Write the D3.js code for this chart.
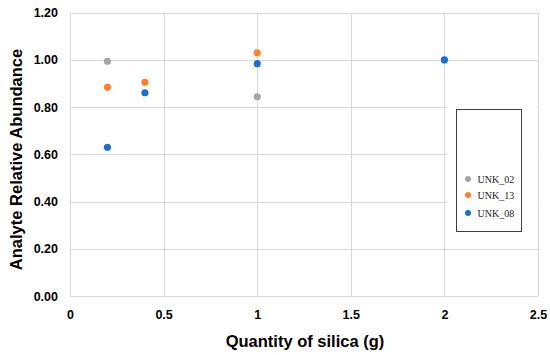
<!DOCTYPE html>
<html lang="en">
<head>
  <meta charset="UTF-8">
  <title>scatter chart</title>
  <style>
    body { margin: 0; background: #fff; }
  </style>
</head>
<body>
  <script src="https://cdn.jsdelivr.net/npm/d3@7"></script>
  <script type="text/javascript">
    // series, x = quantity of silica (g), y = relative abundance
    var seriesNames = ["UNK_02", "UNK_13", "UNK_08"];
    var seriesColors = ["#a5a5a5", "#ff7f2a", "#1f6fd1"];
    var unk02X = [0.2, 1];
    var unk02Y = [0.994, 0.844];
    var unk13X = [0.2, 0.4, 1];
    var unk13Y = [0.884, 0.905, 1.03];
    var unk08X = [0.2, 0.4, 1, 2];
    var unk08Y = [0.63, 0.861, 0.984, 1.0];
    var xTicks = [0, 0.5, 1, 1.5, 2, 2.5];
    var yTicks = [0, 0.2, 0.4, 0.6, 0.8, 1.0, 1.2];

    var width = 550, height = 355;
    var margin = {top: 12.7, right: 12, bottom: 59, left: 70};

    var svg = d3.select("body").append("svg")
      .attr("width", width)
      .attr("height", height);

    var x = d3.scaleLinear().domain([0, 2.5]).range([margin.left, 538]);
    var y = d3.scaleLinear().domain([0, 1.2]).range([296, margin.top]);

    // grid
    svg.append("g").selectAll("line").data(yTicks).enter().append("line")
      .attr("x1", x(0)).attr("x2", x(2.5))
      .attr("y1", function(d){ return Math.round(y(d)) + 0.5; })
      .attr("y2", function(d){ return Math.round(y(d)) + 0.5; })
      .attr("stroke", "#d9d9d9").attr("stroke-width", 1);
    svg.append("g").selectAll("line").data(xTicks).enter().append("line")
      .attr("x1", function(d){ return Math.round(x(d)) + 0.5; })
      .attr("x2", function(d){ return Math.round(x(d)) + 0.5; })
      .attr("y1", y(1.2)).attr("y2", y(0))
      .attr("stroke", "#d9d9d9").attr("stroke-width", 1);

    // axes (labels only, lines drawn by grid)
    var xAxis = svg.append("g")
      .attr("transform", "translate(0,296)")
      .call(d3.axisBottom(x).tickValues(xTicks).tickSize(0).tickPadding(14)
        .tickFormat(function(d){ return String(d); }));
    var yAxis = svg.append("g")
      .attr("transform", "translate(" + margin.left + ",0)")
      .call(d3.axisLeft(y).tickValues(yTicks).tickSize(0).tickPadding(12)
        .tickFormat(d3.format(".2f")));
    [xAxis, yAxis].forEach(function(a){
      a.select(".domain").remove();
      a.selectAll("text")
        .attr("font-family", "Arial, 'Liberation Sans', sans-serif")
        .attr("font-size", "12.5px")
        .attr("font-weight", "bold")
        .attr("fill", "#000");
    });

    // axis titles
    svg.append("text")
      .attr("x", 305).attr("y", 347)
      .attr("text-anchor", "middle")
      .attr("font-family", "Arial, 'Liberation Sans', sans-serif")
      .attr("font-size", "16.5px").attr("font-weight", "bold")
      .text("Quantity of silica (g)");
    svg.append("text")
      .attr("transform", "translate(21.5,159.5) rotate(-90)")
      .attr("text-anchor", "middle")
      .attr("font-family", "Arial, 'Liberation Sans', sans-serif")
      .attr("font-size", "16.5px").attr("font-weight", "bold")
      .text("Analyte Relative Abundance");

    // points
    var series = [
      {xs: unk02X, ys: unk02Y},
      {xs: unk13X, ys: unk13Y},
      {xs: unk08X, ys: unk08Y}
    ];
    series.forEach(function(s, k){
      svg.append("g").selectAll("circle")
        .data(s.xs.map(function(v, i){ return [v, s.ys[i]]; }))
        .enter().append("circle")
        .attr("cx", function(d){ return x(d[0]); })
        .attr("cy", function(d){ return y(d[1]); })
        .attr("r", 3.6)
        .attr("fill", seriesColors[k]);
    });

    // legend: white panel hiding the grid, then the box
    svg.append("rect")
      .attr("x", 447).attr("y", 100).attr("width", 90).attr("height", 140)
      .attr("fill", "#fff");
    svg.append("rect")
      .attr("x", 456.5).attr("y", 109.5).attr("width", 65).attr("height", 122)
      .attr("fill", "#fff").attr("stroke", "#404040").attr("stroke-width", 1);
    var legendY = [179, 195, 213];
    var lg = svg.append("g").selectAll("g").data(seriesNames).enter().append("g")
      .attr("transform", function(d, i){ return "translate(468," + legendY[i] + ")"; });
    lg.append("circle").attr("r", 3).attr("fill", function(d, i){ return seriesColors[i]; });
    lg.append("text")
      .attr("x", 9.5).attr("dy", "0.35em")
      .attr("font-family", "'Liberation Serif', 'Times New Roman', serif")
      .attr("font-size", "10px")
      .attr("fill", "#222")
      .text(function(d){ return d; });
  </script>
</body>
</html>
